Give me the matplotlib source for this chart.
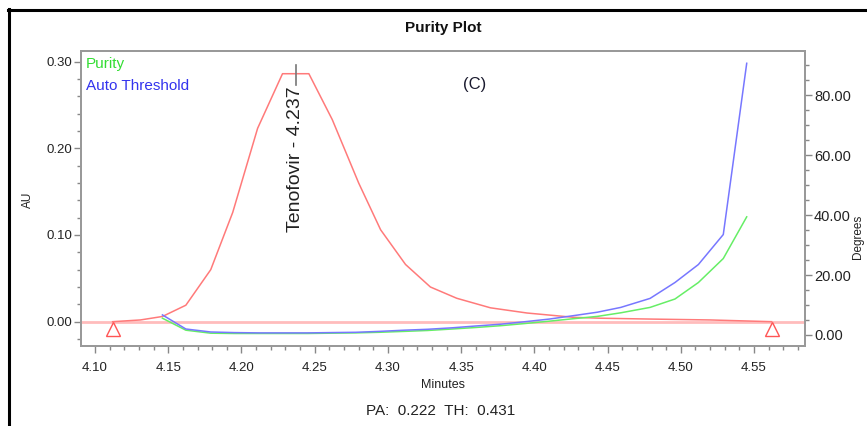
import matplotlib
matplotlib.use("Agg")
import matplotlib.pyplot as plt
from matplotlib.lines import Line2D
from matplotlib.ticker import MultipleLocator, FormatStrFormatter

plt.rcParams['font.family'] = ['Liberation Sans', 'DejaVu Sans']

# ---- data ----
chrom_time = [4.112, 4.131, 4.146, 4.162, 4.179, 4.194, 4.211, 4.228, 4.246, 4.262,
              4.280, 4.295, 4.312, 4.329, 4.347, 4.370, 4.395, 4.427, 4.445, 4.480,
              4.520, 4.562]
chrom_au = [0.000, 0.002, 0.006, 0.019, 0.060, 0.126, 0.223, 0.286, 0.286, 0.233,
            0.160, 0.106, 0.066, 0.040, 0.027, 0.016, 0.010, 0.005, 0.004, 0.003,
            0.002, 0.000]

angle_time = [4.146, 4.162, 4.179, 4.195, 4.212, 4.228, 4.245, 4.261, 4.278, 4.294,
              4.311, 4.327, 4.344, 4.360, 4.377, 4.393, 4.410, 4.426, 4.443, 4.459,
              4.479, 4.496, 4.512, 4.529, 4.545]
purity_deg = [5.6, 1.6, 0.6, 0.5, 0.5, 0.5, 0.5, 0.6, 0.7, 0.9,
              1.2, 1.5, 2.0, 2.5, 3.1, 3.8, 4.6, 5.4, 6.2, 7.4,
              9.2, 12.0, 17.5, 25.5, 39.4]
threshold_deg = [6.7, 2.0, 1.0, 0.8, 0.7, 0.7, 0.7, 0.8, 0.9, 1.2,
                 1.6, 1.9, 2.4, 3.0, 3.6, 4.4, 5.3, 6.4, 7.6, 9.2,
                 12.2, 17.5, 23.5, 33.5, 90.6]

baseline_au = 0.0
peak_marks_time = [4.1125, 4.5622]
peak_marks_au = [-0.0085, -0.0085]
apex_time = 4.237
apex_tick_au = [0.273, 0.296]
peak_name = "Tenofovir - 4.237"
pa_value = 0.222
th_value = 0.431

# ---- figure ----
W, H = 867, 426
fig = plt.figure(figsize=(W / 100, H / 100), dpi=100)
ax = fig.add_axes([81 / W, 1 - 345.7 / H, (805 - 81) / W, (345.7 - 51) / H])
ax2 = ax.twinx()

red = '#ff7a7a'
ax.axhline(baseline_au, color='#ffbcbc', lw=2.0, zorder=1)
ax.plot(chrom_time, chrom_au, color=red, lw=1.1, zorder=2)
ax.plot(peak_marks_time, peak_marks_au, ls='none', marker='^', ms=9.5,
        mfc='none', mec='#ff5555', mew=1.0, zorder=3)
ax.plot([apex_time, apex_time], apex_tick_au, color='#777777', lw=1.2, zorder=4)
ax.text(apex_time, apex_tick_au[0] - 0.002, peak_name, rotation=90,
        ha='center', va='top', fontsize=14, color='#222222')

ax2.plot(angle_time, purity_deg, color='#66ee66', lw=1.1)
ax2.plot(angle_time, threshold_deg, color='#7777ff', lw=1.1)

ax.set_xlim(4.0904, 4.5848)
ax.set_ylim(-0.0277, 0.3122)
ax2.set_ylim(-3.57, 94.7)

ax.xaxis.set_major_locator(MultipleLocator(0.05))
ax.xaxis.set_minor_locator(MultipleLocator(0.01))
ax.xaxis.set_major_formatter(FormatStrFormatter('%.2f'))
ax.yaxis.set_major_locator(MultipleLocator(0.10))
ax.yaxis.set_minor_locator(MultipleLocator(0.02))
ax.yaxis.set_major_formatter(FormatStrFormatter('%.2f'))
ax2.yaxis.set_major_locator(MultipleLocator(20))
ax2.yaxis.set_minor_locator(MultipleLocator(5))
ax2.yaxis.set_major_formatter(FormatStrFormatter('%.2f'))

spine_c = '#999999'
for a in (ax, ax2):
    for s in a.spines.values():
        s.set_color(spine_c)
        s.set_linewidth(1.3)
ax.tick_params(axis='both', which='major', length=5, width=1, color='#888888',
               labelsize=9.5, labelcolor='#222222', pad=1.5, direction='out')
ax.tick_params(axis='both', which='minor', length=3, width=1, color='#888888', direction='out')
ax.tick_params(axis='x', which='major', pad=6.5)
ax2.tick_params(axis='y', which='major', length=5, width=1, color='#888888',
                labelsize=10.5, labelcolor='#222222', pad=1.5, direction='out')
ax2.tick_params(axis='y', which='minor', length=3, width=1, color='#888888', direction='out')

# texts
fig.text(443 / W, 1 - 28 / H, 'Purity Plot', ha='center', va='center',
         fontsize=11, fontweight='bold', color='#111111')
fig.text(28 / W, 1 - 200 / H, 'AU', rotation=90, ha='center', va='center',
         fontsize=8.5, color='#222222')
fig.text(858 / W, 1 - 237 / H, 'Degrees', rotation=90, ha='center', va='center',
         fontsize=8.5, color='#222222')
fig.text(443 / W, 1 - 385 / H, 'Minutes', ha='center', va='center',
         fontsize=9, color='#222222')
fig.text(441 / W, 1 - 411 / H, f'PA:  {pa_value:.3f}  TH:  {th_value:.3f}',
         ha='center', va='center', fontsize=11, color='#222222')
fig.text(475 / W, 1 - 84 / H, '(C)', ha='center', va='center',
         fontsize=12, color='#1a1a2e')
fig.text(86 / W, 1 - 57 / H, 'Purity', ha='left', va='top', fontsize=11, color='#33dd33')
fig.text(86 / W, 1 - 79 / H, 'Auto Threshold', ha='left', va='top', fontsize=11, color='#3333ee')

# black frame lines (top and left)
fig.add_artist(Line2D([8 / W, 1.0], [1 - 9.5 / H, 1 - 9.5 / H], color='black', lw=2.2,
                      transform=fig.transFigure))
fig.add_artist(Line2D([9 / W, 9 / W], [1 - 8.5 / H, 0.0], color='black', lw=2.2,
                      transform=fig.transFigure))

fig.savefig('out.png', dpi=100)
